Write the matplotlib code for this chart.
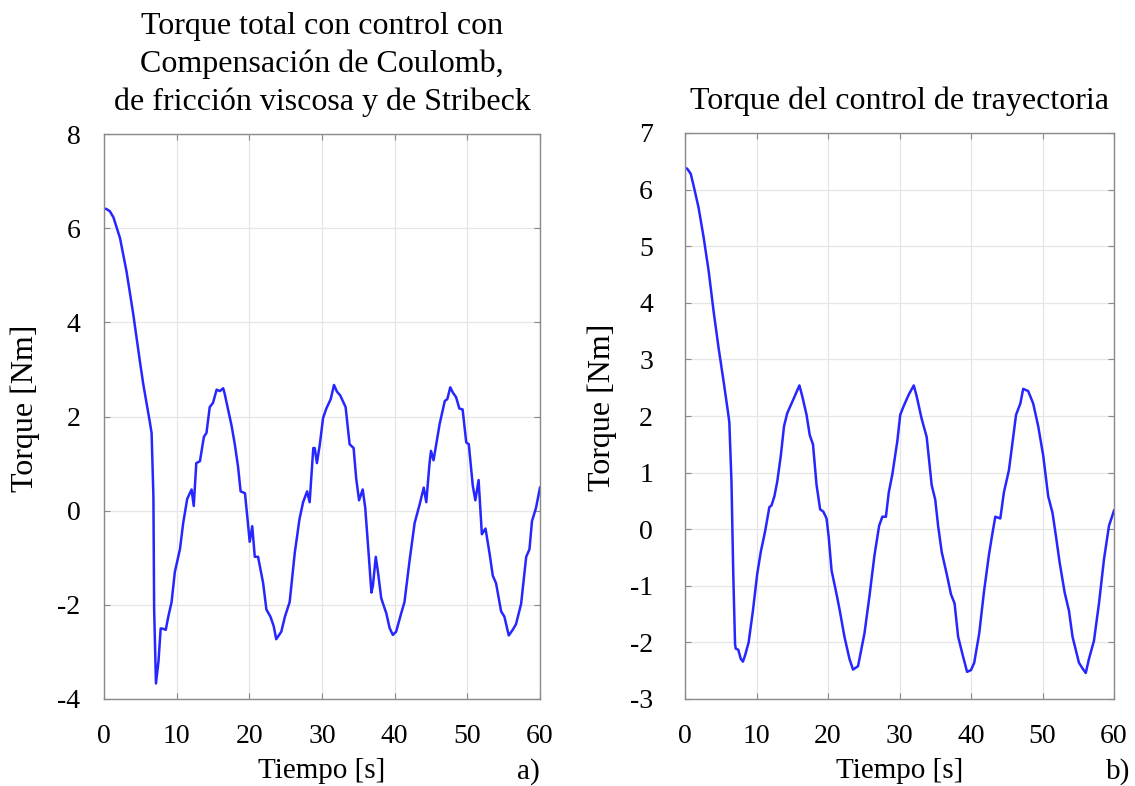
import matplotlib
matplotlib.use("Agg")
import matplotlib.pyplot as plt

plt.rcParams['font.family'] = ['Liberation Serif', 'DejaVu Serif']

# Torque total (compensación de Coulomb, fricción viscosa y Stribeck)
t_total = [0, 0.3, 0.8, 1.3, 2.2, 3.1, 4.0, 4.95, 5.4, 6.3, 6.55, 6.8, 6.9, 7.15, 7.5, 7.8,
           8.15, 8.5, 8.85, 9.3, 9.75, 10.45, 10.9, 11.45, 12.05, 12.35, 12.7, 13.2,
           13.75, 14.1, 14.55, 15.0, 15.5, 15.95, 16.4, 16.6, 17.1, 17.55, 18.0, 18.45,
           18.8, 19.4, 19.75, 20.05, 20.4, 20.75, 21.2, 21.9, 22.35, 22.9, 23.35, 23.7,
           24.4, 24.9, 25.55, 26.25, 26.9, 27.4, 27.95, 28.3, 28.8, 29.0, 29.3, 29.7,
           30.15, 30.6, 31.2, 31.65, 32.05, 32.5, 33.25, 33.8, 34.35, 34.7, 35.1, 35.6,
           35.95, 36.45, 36.8, 37.0, 37.4, 37.7, 38.15, 38.85, 39.3, 39.75, 40.2, 40.9,
           41.35, 42.05, 42.75, 43.45, 44.0, 44.35, 44.8, 45.0, 45.35, 46.2, 46.9, 47.25,
           47.65, 48.0, 48.45, 48.9, 49.35, 49.85, 50.2, 50.75, 51.1, 51.55, 52.0, 52.2,
           52.5, 53.05, 53.5, 53.95, 54.65, 55.1, 55.7, 56.25, 56.7, 57.4, 58.1, 58.55,
           58.9, 59.45, 60.0]
tau_total = [6.41, 6.41, 6.36, 6.23, 5.79, 5.08, 4.2, 3.16, 2.69, 1.89, 1.65, 0.3, -2.1, -3.67,
             -3.2, -2.5, -2.51, -2.53, -2.25, -1.94, -1.3, -0.82, -0.26, 0.25, 0.45, 0.1,
             1.01, 1.05, 1.57, 1.65, 2.2, 2.29, 2.57, 2.54, 2.6, 2.49, 2.13, 1.81, 1.41,
             0.93, 0.41, 0.37, -0.18, -0.66, -0.33, -0.98, -0.98, -1.54, -2.1, -2.25, -2.45,
             -2.73, -2.57, -2.25, -1.94, -0.9, -0.18, 0.18, 0.41, 0.18, 1.33, 1.33, 1.01,
             1.41, 1.97, 2.17, 2.37, 2.67, 2.53, 2.45, 2.2, 1.41, 1.33, 0.69, 0.22, 0.45,
             0.06, -0.98, -1.74, -1.6, -0.98, -1.3, -1.86, -2.18, -2.49, -2.64, -2.57, -2.18,
             -1.94, -1.06, -0.26, 0.14, 0.49, 0.18, 1.01, 1.27, 1.07, 1.85, 2.33, 2.37,
             2.62, 2.51, 2.41, 2.17, 2.15, 1.45, 1.41, 0.53, 0.22, 0.65, -0.5, -0.45,
             -0.38, -0.9, -1.38, -1.54, -2.14, -2.25, -2.65, -2.53, -2.41, -1.98, -0.98, -0.82,
             -0.22, 0.06, 0.49]

# Torque del control de trayectoria
t_tray = [0, 0.3, 0.8, 1.2, 1.9, 2.6, 3.3, 4.0, 4.7, 5.4, 6.0, 6.2, 6.5, 6.75, 7.0, 7.1, 7.45,
          7.8, 8.1, 8.4, 8.9, 9.5, 10.1, 10.6, 11.2, 11.8, 12.1, 12.5, 12.9, 13.4, 13.85,
          14.3, 15.0, 15.45, 16.0, 16.4, 17.0, 17.45, 17.9, 18.4, 18.9, 19.35, 19.8, 20.1,
          20.5, 21.2, 21.65, 22.3, 23.0, 23.5, 24.2, 25.1, 25.8, 26.5, 27.15, 27.6, 28.1,
          28.5, 29.0, 29.7, 30.1, 30.6, 31.3, 32.0, 32.4, 33.1, 33.8, 34.5, 35.0, 35.4,
          35.9, 36.6, 37.2, 37.7, 38.2, 38.85, 39.45, 40.0, 40.45, 41.15, 41.8, 42.5, 43.0,
          43.4, 44.1, 44.6, 45.3, 45.7, 46.3, 46.9, 47.3, 48.0, 48.7, 49.4, 50.1, 50.8,
          51.4, 51.9, 52.4, 53.1, 53.7, 54.2, 55.1, 55.6, 56.05, 56.5, 57.2, 57.9, 58.6,
          59.3, 60.0]
tau_tray = [6.38, 6.37, 6.28, 6.07, 5.68, 5.16, 4.57, 3.85, 3.2, 2.61, 2.08, 1.89, 0.84, -0.79,
            -2.03, -2.11, -2.13, -2.29, -2.34, -2.23, -2.0, -1.44, -0.79, -0.4, -0.04, 0.39,
            0.42, 0.58, 0.84, 1.3, 1.82, 2.05, 2.25, 2.38, 2.54, 2.35, 2.02, 1.66, 1.5, 0.78,
            0.35, 0.31, 0.19, -0.14, -0.73, -1.15, -1.44, -1.9, -2.29, -2.48, -2.42, -1.84,
            -1.18, -0.46, 0.06, 0.22, 0.22, 0.65, 0.97, 1.56, 2.02, 2.18, 2.38, 2.54, 2.35,
            1.95, 1.63, 0.78, 0.52, 0.06, -0.4, -0.79, -1.15, -1.31, -1.9, -2.23, -2.52,
            -2.49, -2.36, -1.84, -1.12, -0.46, -0.07, 0.22, 0.19, 0.65, 1.04, 1.43, 2.02,
            2.22, 2.48, 2.44, 2.22, 1.82, 1.3, 0.58, 0.29, -0.14, -0.59, -1.12, -1.44, -1.9,
            -2.36, -2.46, -2.54, -2.29, -1.97, -1.31, -0.53, 0.06, 0.33]

x_ticks = [0, 10, 20, 30, 40, 50, 60]
y_ticks_total = [-4, -2, 0, 2, 4, 6, 8]
y_ticks_tray = [-3, -2, -1, 0, 1, 2, 3, 4, 5, 6, 7]

assert len(t_total) == len(tau_total)
assert len(t_tray) == len(tau_tray)

W, H = 1135, 786
fig = plt.figure(figsize=(W / 100, H / 100), dpi=100)
ax1 = fig.add_axes([104 / W, 1 - 699 / H, 436 / W, 565 / H])
ax2 = fig.add_axes([685 / W, 1 - 699 / H, 429 / W, 566 / H])

line_color = (0.15, 0.15, 1.0)
spine_color = '#8a8a8a'


def style(ax, yticks, ypad):
    ax.set_xlim(0, 60)
    ax.set_ylim(yticks[0], yticks[-1])
    ax.set_xticks(x_ticks)
    ax.set_yticks(yticks)
    ax.set_yticklabels([str(v) for v in yticks])
    ax.grid(True, color='#e6e6e6', linewidth=0.9)
    ax.set_axisbelow(True)
    for s in ax.spines.values():
        s.set_color(spine_color)
        s.set_linewidth(1.0)
    ax.tick_params(direction='in', length=4, width=0.8, color=spine_color,
                   top=True, right=True, labelsize=20, labelcolor='black')
    ax.tick_params(axis='x', pad=18)
    ax.tick_params(axis='y', pad=ypad)


ax1.plot(t_total, tau_total, color=line_color, linewidth=1.8, solid_joinstyle='round')
ax2.plot(t_tray, tau_tray, color=line_color, linewidth=1.8, solid_joinstyle='round')

style(ax1, y_ticks_total, 17)
style(ax2, y_ticks_tray, 23)

ax1.set_title('Torque total con control con\nCompensación de Coulomb,\nde fricción viscosa y de Stribeck',
              fontsize=23, pad=17, linespacing=1.38)
ax2.set_title('Torque del control de trayectoria', fontsize=23, pad=17)

for ax, xr, ylab_x, tag, tag_x in [(ax1, (104, 540), 25, 'a)', 1.0),
                                    (ax2, (685, 1114), 602, 'b)', (1130 - 685) / 429)]:
    width = xr[1] - xr[0]
    ax.set_xlabel('Tiempo [s]', fontsize=21, va='top')
    ax.xaxis.set_label_coords(0.5, -(758 - 699) / 565)
    ax.set_ylabel('Torque [Nm]', fontsize=23, va='center')
    ax.yaxis.set_label_coords((ylab_x - xr[0]) / width, (699 - 408) / 565)
    ax.text(tag_x, -(758 - 699) / 565, tag, transform=ax.transAxes,
            ha='right', va='top', fontsize=21)

fig.savefig('out.png', dpi=100, facecolor='white')
